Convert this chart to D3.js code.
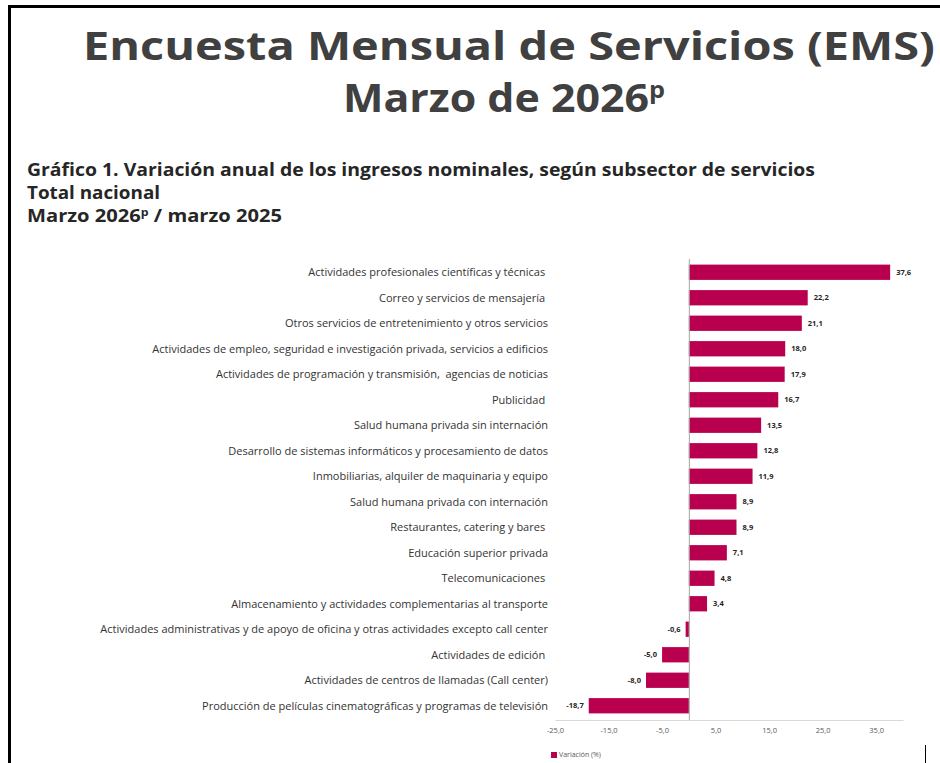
<!DOCTYPE html>
<html>
<head>
<meta charset="utf-8">
<script src="https://cdn.jsdelivr.net/npm/d3@7"></script>
<style>
  body { margin: 0; background: #fff; }
  svg { display: block; }
  text { font-family: "Open Sans", sans-serif; }
</style>
</head>
<body>
<svg id="chart" width="940" height="763"></svg>
<script>
// subsectores (orden de arriba hacia abajo), espacios finales como en el original
var categories = [
  'Actividades profesionales científicas y técnicas ',
  'Correo y servicios de mensajería ',
  'Otros servicios de entretenimiento y otros servicios',
  'Actividades de empleo, seguridad e investigación privada, servicios a edificios',
  'Actividades de programación y transmisión,  agencias de noticias',
  'Publicidad ',
  'Salud humana privada sin internación',
  'Desarrollo de sistemas informáticos y procesamiento de datos',
  'Inmobiliarias, alquiler de maquinaria y equipo',
  'Salud humana privada con internación',
  'Restaurantes, catering y bares ',
  'Educación superior privada',
  'Telecomunicaciones ',
  'Almacenamiento y actividades complementarias al transporte',
  'Actividades administrativas y de apoyo de oficina y otras actividades excepto call center',
  'Actividades de edición ',
  'Actividades de centros de llamadas (Call center)',
  'Producción de películas cinematográficas y programas de televisión'
];
var values = [37.6, 22.2, 21.1, 18.0, 17.9, 16.7, 13.5, 12.8, 11.9, 8.9, 8.9, 7.1, 4.8, 3.4, -0.6, -5.0, -8.0, -18.7];
var tickValues = [-25, -15, -5, 5, 15, 25, 35];
var xDomain = [-25, 40];

var barColor = '#b8004e';
var locale = d3.formatLocale({ decimal: ',', thousands: '.', grouping: [3], currency: ['$', ''], minus: '-' });
var fmt = locale.format('.1f');

var svg = d3.select('#chart');

// marco
svg.append('path')
    .attr('d', 'M9.5,763 V6.5 H940')
    .attr('fill', 'none')
    .attr('stroke', '#000')
    .attr('stroke-width', 3);
svg.append('line')
    .attr('x1', 925.5).attr('x2', 925.5)
    .attr('y1', 745).attr('y2', 763)
    .attr('stroke', '#000').attr('stroke-width', 1);

// títulos
svg.append('text')
    .attr('x', 509).attr('y', 60)
    .attr('text-anchor', 'middle')
    .attr('textLength', 852).attr('lengthAdjust', 'spacingAndGlyphs')
    .style('font-size', '39px').style('font-weight', 700).style('fill', '#404040')
    .text('Encuesta Mensual de Servicios (EMS)');

var t2 = svg.append('text')
    .attr('x', 343).attr('y', 112)
    .attr('textLength', 322).attr('lengthAdjust', 'spacingAndGlyphs')
    .style('font-size', '39px').style('font-weight', 700).style('fill', '#404040');
t2.append('tspan').text('Marzo de 2026');
t2.append('tspan').attr('dy', -14).style('font-size', '23px').text('p');

var subtitle = svg.append('g').style('font-size', '18px').style('font-weight', 700).style('fill', '#262626');
subtitle.append('text').attr('x', 27).attr('y', 176)
    .attr('textLength', 788).attr('lengthAdjust', 'spacingAndGlyphs')
    .text('Gráfico 1. Variación anual de los ingresos nominales, según subsector de servicios');
subtitle.append('text').attr('x', 27).attr('y', 199)
    .attr('textLength', 133).attr('lengthAdjust', 'spacingAndGlyphs')
    .text('Total nacional');
var s3 = subtitle.append('text').attr('x', 27).attr('y', 222)
    .attr('textLength', 255).attr('lengthAdjust', 'spacingAndGlyphs');
s3.append('tspan').text('Marzo 2026');
s3.append('tspan').attr('dy', -6).style('font-size', '11px').text('p');
s3.append('tspan').attr('dy', 6).text(' / marzo 2025');

// escalas
var x = d3.scaleLinear().domain(xDomain).range([555, 903]);
var y = d3.scaleBand().domain(categories).range([259.5, 718.5]).paddingInner(0.4).paddingOuter(0.2);

// eje x
var xAxis = svg.append('g')
    .attr('transform', 'translate(0,720)')
    .call(d3.axisBottom(x).tickValues(tickValues).tickFormat(fmt).tickSize(0).tickPadding(8));
xAxis.select('.domain').attr('stroke', '#d9d9d9');
xAxis.selectAll('text').style('font-size', '7.5px').style('fill', '#595959').style('font-family', '"Open Sans", sans-serif');

// barras
svg.append('g').selectAll('rect')
    .data(values)
    .enter().append('rect')
    .attr('x', d => x(Math.min(0, d)))
    .attr('y', (d, i) => y(categories[i]))
    .attr('width', d => Math.abs(x(d) - x(0)))
    .attr('height', y.bandwidth())
    .attr('fill', barColor);

// línea del cero
svg.append('line')
    .attr('x1', x(0) + 0.5).attr('x2', x(0) + 0.5)
    .attr('y1', 259).attr('y2', 720)
    .attr('stroke', '#a6a6a6').attr('stroke-width', 1);

// etiquetas de categoría
svg.append('g').selectAll('text')
    .data(categories)
    .enter().append('text')
    .attr('x', 548)
    .attr('y', d => y(d) + y.bandwidth() / 2)
    .attr('dy', '0.35em')
    .attr('text-anchor', 'end')
    .style('white-space', 'pre')
    .style('font-size', '11px')
    .style('fill', '#333')
    .text(d => d);

// etiquetas de valor
svg.append('g').selectAll('text')
    .data(values)
    .enter().append('text')
    .attr('x', d => d >= 0 ? x(d) + 6 : x(d) - 5)
    .attr('y', (d, i) => y(categories[i]) + y.bandwidth() / 2)
    .attr('dy', '0.35em')
    .attr('text-anchor', d => d >= 0 ? 'start' : 'end')
    .style('font-size', '7.5px')
    .style('font-weight', 700)
    .style('fill', '#262626')
    .text(d => fmt(d));

// leyenda
var legend = svg.append('g').attr('transform', 'translate(551,752)');
legend.append('rect').attr('width', 6).attr('height', 6).attr('fill', barColor);
legend.append('text').attr('x', 8).attr('y', 3).attr('dy', '0.35em')
    .style('font-size', '7px').style('fill', '#595959')
    .text('Variación (%)');
</script>
</body>
</html>
